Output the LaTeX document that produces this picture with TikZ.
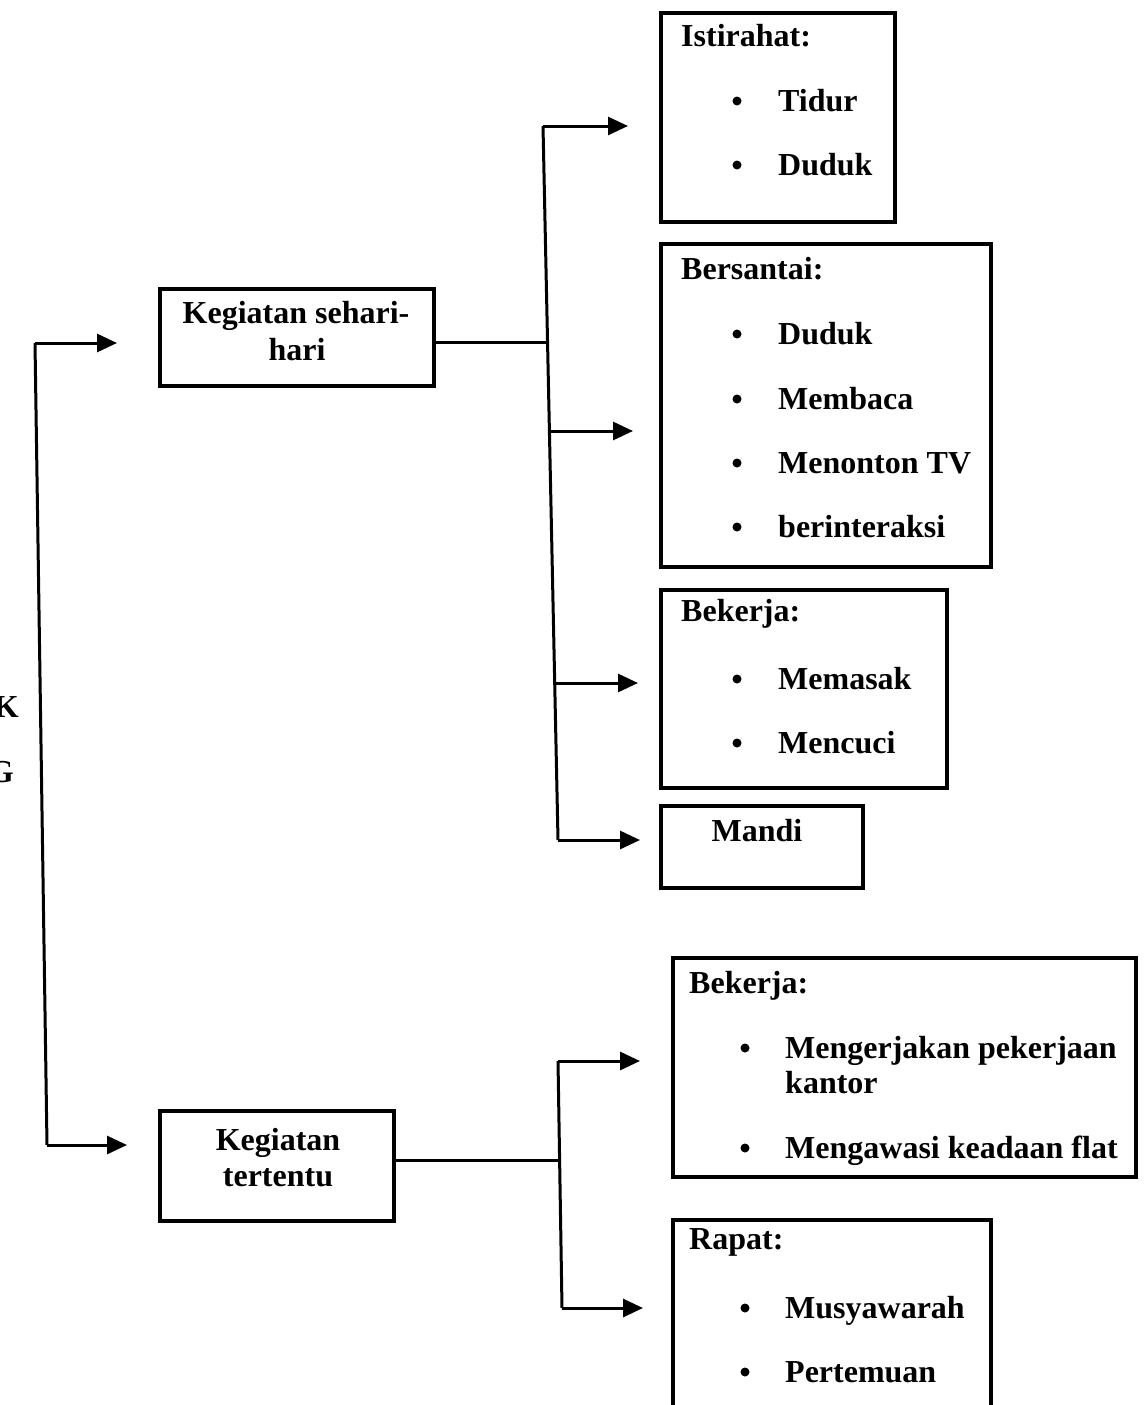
\documentclass[tikz,border=0pt]{standalone}
\usepackage{fontspec}
\setmainfont{Liberation Serif}
\usetikzlibrary{arrows.meta}
\begin{document}
\begin{tikzpicture}[x=1pt,y=-1pt,
  box/.style={draw,line width=3.8pt,anchor=north west,inner sep=0pt},
  txt/.style={anchor=base west,inner sep=0pt,font=\fontsize{32}{38}\selectfont\bfseries},
  ctxt/.style={anchor=base,inner sep=0pt,font=\fontsize{32}{38}\selectfont\bfseries},
  bul/.style={circle,fill,inner sep=0pt,minimum size=9pt},
  conn/.style={line width=3pt},
  arr/.style={line width=3pt,-{Triangle[length=20pt,width=18pt]}}
]
\useasboundingbox (0,0) rectangle (1144,1405);

% cut-off text at left edge
\node[txt,anchor=base east] (kk) at (19,717) {K};
\node[txt,anchor=base east] (gg) at (14,782) {G};

% main boxes
\node[box,minimum width=274pt,minimum height=97pt] (seh) at (158,287) {};
\node[ctxt] (seh1) at (296,323) {Kegiatan sehari-};
\node[ctxt] (seh2) at (297,360) {hari};

\node[box,minimum width=234pt,minimum height=110pt] (ter) at (158,1109) {};
\node[ctxt] (ter1) at (278,1150) {Kegiatan};
\node[ctxt] (ter2) at (278,1186) {tertentu};

% Istirahat
\node[box,minimum width=234pt,minimum height=209pt] (b1) at (659,11) {};
\node[txt] (b1h) at (681,47) {Istirahat:};
\node[bul] (b1a) at (737,101) {};
\node[txt] (b1at) at (778,111) {Tidur};
\node[bul] (b1b) at (737,165) {};
\node[txt] (b1bt) at (778,175) {Duduk};

% Bersantai
\node[box,minimum width=330pt,minimum height=323pt] (b2) at (659,242) {};
\node[txt] (b2h) at (681,279) {Bersantai:};
\node[bul] (b2a) at (737,334) {};
\node[txt] (b2at) at (778,344) {Duduk};
\node[bul] (b2b) at (737,399) {};
\node[txt] (b2bt) at (778,409) {Membaca};
\node[bul] (b2c) at (737,463) {};
\node[txt] (b2ct) at (778,473) {Menonton TV};
\node[bul] (b2d) at (737,527) {};
\node[txt] (b2dt) at (778,537) {berinteraksi};

% Bekerja
\node[box,minimum width=286pt,minimum height=198pt] (b3) at (659,588) {};
\node[txt] (b3h) at (681,621) {Bekerja:};
\node[bul] (b3a) at (737,679) {};
\node[txt] (b3at) at (778,689) {Memasak};
\node[bul] (b3b) at (737,743) {};
\node[txt] (b3bt) at (778,753) {Mencuci};

% Mandi
\node[box,minimum width=202pt,minimum height=82pt] (b4) at (659,804) {};
\node[ctxt] (b4t) at (757,841) {Mandi};

% Bekerja 2
\node[box,minimum width=463pt,minimum height=219pt] (b5) at (671,956) {};
\node[txt] (b5h) at (689,993) {Bekerja:};
\node[bul] (b5a) at (745,1048) {};
\node[txt] (b5at) at (785,1058) {Mengerjakan pekerjaan};
\node[txt] (b5at2) at (785,1093) {kantor};
\node[bul] (b5b) at (745,1148) {};
\node[txt] (b5bt) at (785,1158) {Mengawasi keadaan flat};

% Rapat
\node[box,minimum width=318pt,minimum height=220pt] (b6) at (671,1218) {};
\node[txt] (b6h) at (689,1249) {Rapat:};
\node[bul] (b6a) at (745,1308) {};
\node[txt] (b6at) at (785,1318) {Musyawarah};
\node[bul] (b6b) at (745,1372) {};
\node[txt] (b6bt) at (785,1382) {Pertemuan};

% connectors: left trunk
\coordinate (l1) at (35,343);
\coordinate (l2) at (47,1145);
\coordinate (la1) at (117,343);
\coordinate (la2) at (127,1145);
\draw[conn] (l1) -- (l2);
\draw[arr] (l1) -- (la1);
\draw[arr] (l2) -- (la2);

% sehari-hari trunk
\coordinate (s0) at (548,342);
\coordinate (v1) at (543,126);
\coordinate (v2) at (549,431);
\coordinate (v3) at (553,683);
\coordinate (v4) at (558,840);
\coordinate (a1) at (628,126);
\coordinate (a2) at (633,431);
\coordinate (a3) at (638,683);
\coordinate (a4) at (640,840);
\draw[conn] (seh.east |- s0) -- (s0);
\draw[conn] (v1) -- (v4);
\draw[arr] (v1) -- (a1);
\draw[arr] (v2) -- (a2);
\draw[arr] (v3) -- (a3);
\draw[arr] (v4) -- (a4);

% tertentu trunk
\coordinate (t0) at (560,1160);
\coordinate (w1) at (558,1061);
\coordinate (w2) at (562,1308);
\coordinate (c1) at (640,1061);
\coordinate (c2) at (643,1308);
\draw[conn] (ter.east |- t0) -- (t0);
\draw[conn] (w1) -- (w2);
\draw[arr] (w1) -- (c1);
\draw[arr] (w2) -- (c2);
\end{tikzpicture}
\end{document}
